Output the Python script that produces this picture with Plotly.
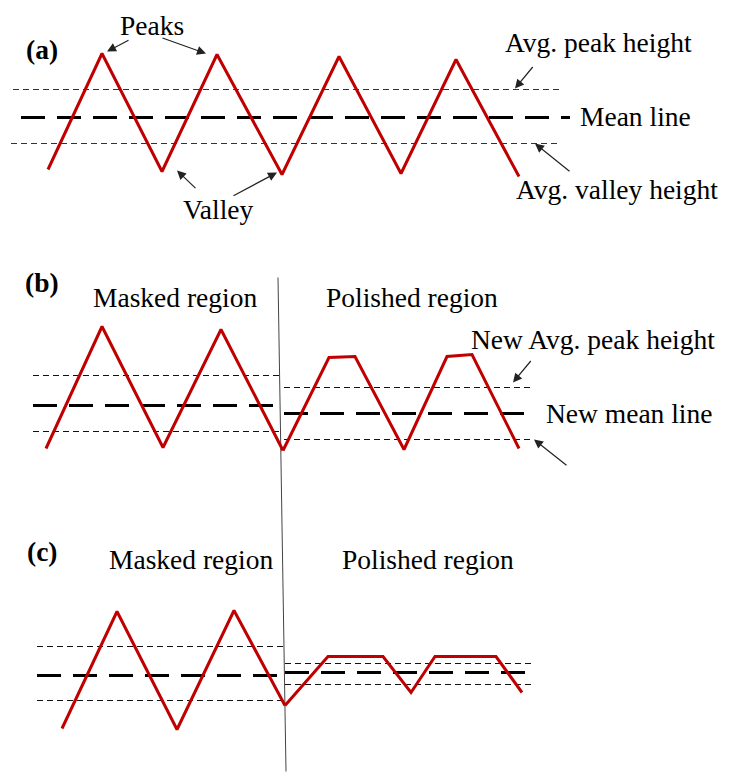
import plotly.graph_objects as go

W, H = 729, 772
OFF = 8  # browser body margin
RED = "#c00000"
FONT = "Liberation Serif, Times New Roman, serif"
FS = 27.5

# ---------------- Panel (a) ----------------
a_profile_x = [48, 102, 162, 217, 282, 339, 401, 456, 519]
a_profile_y = [170, 54, 172, 55, 175, 57, 174, 60, 177]
a_peak_line = dict(x=[13, 563], y=[90, 90])
a_mean_line = dict(x=[21, 570], y=[118, 118])
a_valley_line = dict(x=[11, 560], y=[144, 144])

# ---------------- Panel (b) ----------------
b_masked_x = [46, 102, 163, 221, 283]
b_masked_y = [449, 327, 448, 330, 451]
b_polished_x = [283, 329, 355, 404, 447, 472, 519]
b_polished_y = [451, 358, 357, 450, 357, 355, 449]
b_left_levels = [376, 406, 432]      # peak, mean, valley
b_left_span = [33, 282]
b_right_levels = [388, 414, 440]
b_right_span = [284, 533]

# ---------------- Panel (c) ----------------
c_masked_x = [62, 117, 177, 234, 285]
c_masked_y = [729, 612, 730, 611, 706]
c_polished_x = [285, 328, 383, 411, 435, 496, 522]
c_polished_y = [706, 657, 657, 693, 657, 657, 693]
c_left_levels = [647, 676, 701]
c_left_span = [37, 285]
c_right_levels = [664, 673, 685]
c_right_span = [285, 533]

# divider between masked / polished regions
divider_x = [278, 286]
divider_y = [278, 772]

# labels: (text, x, y, bold)
labels = [
    ("(a)", 42, 50, True),
    ("Peaks", 152, 26, False),
    ("Valley", 218, 210, False),
    ("Avg. peak height", 598, 43, False),
    ("Mean line", 635, 117, False),
    ("Avg. valley height", 617, 190, False),
    ("(b)", 42, 283, True),
    ("Masked region", 175, 298, False),
    ("Polished region", 412, 298, False),
    ("New Avg. peak height", 593, 340, False),
    ("New mean line", 629, 414, False),
    ("(c)", 42, 552, True),
    ("Masked region", 191, 560, False),
    ("Polished region", 428, 560, False),
]

# arrows: (tail_x, tail_y, head_x, head_y)
arrows = [
    (130, 40, 107, 52),
    (161, 38, 206, 54),
    (197, 190, 177, 171),
    (232, 197, 277, 173),
    (534, 66, 515, 89),
    (571, 173, 535, 144),
    (532, 360, 513, 383),
    (568, 467, 534, 440),
]

fig = go.Figure()


def add_line(x, y, color, width, dash="solid"):
    fig.add_trace(go.Scatter(x=x, y=y, mode="lines",
                             line=dict(color=color, width=width, dash=dash),
                             hoverinfo="skip", showlegend=False))


THIN_DASH = "6px,4px"
MEAN_DASH = "24px,12px"

# panel a
add_line(a_peak_line["x"], a_peak_line["y"], "#333333", 1, THIN_DASH)
add_line(a_valley_line["x"], a_valley_line["y"], "#333333", 1, THIN_DASH)
add_line(a_mean_line["x"], a_mean_line["y"], "black", 3, MEAN_DASH)
add_line(a_profile_x, a_profile_y, RED, 3)

# panels b and c
for levels, span in [(b_left_levels, b_left_span), (b_right_levels, b_right_span),
                     (c_left_levels, c_left_span), (c_right_levels, c_right_span)]:
    add_line(span, [levels[0]] * 2, "#111111", 1, THIN_DASH)
    add_line(span, [levels[2]] * 2, "#111111", 1, THIN_DASH)
    add_line(span, [levels[1]] * 2, "black", 3, MEAN_DASH)

add_line(divider_x, divider_y, "#444444", 1)
add_line(b_masked_x, b_masked_y, RED, 3)
add_line(b_polished_x, b_polished_y, RED, 3)
add_line(c_masked_x, c_masked_y, RED, 3)
add_line(c_polished_x, c_polished_y, RED, 3)

for text, x, y, bold in labels:
    fig.add_annotation(x=x, y=y, text=f"<b>{text}</b>" if bold else text,
                       showarrow=False, xanchor="center", yanchor="middle",
                       font=dict(family=FONT, size=FS, color="black"))

for tx, ty, hx, hy in arrows:
    fig.add_annotation(x=hx, y=hy, ax=tx, ay=ty, xref="x", yref="y",
                       axref="x", ayref="y", text="", showarrow=True,
                       arrowhead=2, arrowsize=1.5, arrowwidth=1.2,
                       arrowcolor="#222222")

fig.update_layout(
    width=W - OFF, height=H - OFF, autosize=False,
    margin=dict(l=0, r=0, t=0, b=0),
    paper_bgcolor="white", plot_bgcolor="white",
    xaxis=dict(range=[OFF, W], visible=False, fixedrange=True),
    yaxis=dict(range=[H + 0.5, OFF + 0.5], visible=False, fixedrange=True),
)

fig.write_html("out.html")
